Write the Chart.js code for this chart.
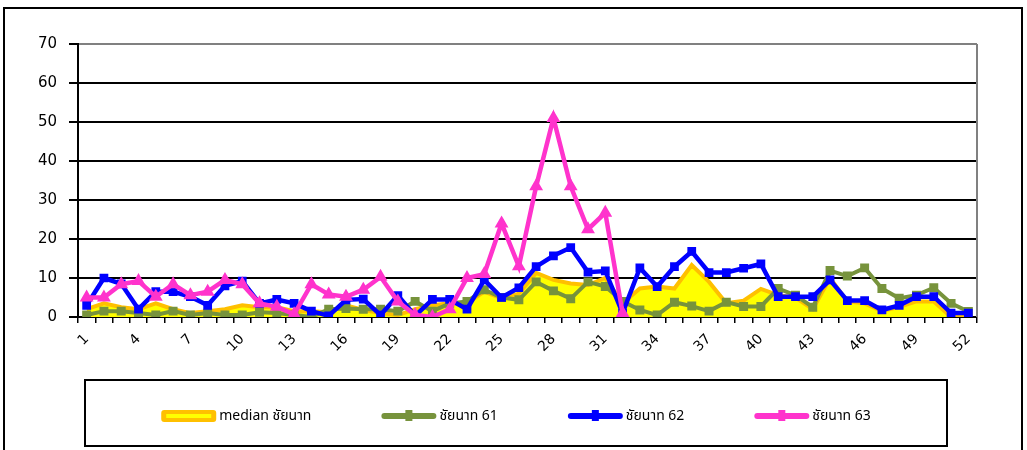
<!DOCTYPE html>
<html>
<head>
<meta charset="utf-8">
<script src="https://cdn.jsdelivr.net/npm/chart.js@4/dist/chart.umd.min.js"></script>
<style>
  html, body { margin: 0; padding: 0; background: #fff; }
  #wrap { width: 1027px; height: 450px; }
</style>
</head>
<body>
<div id="wrap"><canvas id="chart" width="1027" height="450"></canvas></div>
<script>
// weeks 1..52
const weeks = Array.from({ length: 52 }, (_, i) => String(i + 1));

const medianChainat = [2, 3.5, 2.5, 2, 3.5, 2, 1, 1.5, 2, 3, 2.5, 2.5, 1.5, 1.5, 1.2, 3, 1.8, 1, 0.5, 2,
  3, 3.5, 3.5, 6.5, 4.8, 6, 11.3, 9.5, 8.6, 8.2, 10, 3.5, 7.3, 7.8, 7.3, 13.3, 9, 3.5, 4.2, 7.2,
  5.6, 5, 2, 10, 4, 3.5, 1.5, 2.6, 4, 4, 0, 0];

const chainat61 = [0.5, 1.5, 1.5, 1, 0.5, 1.5, 0.5, 1, 0.5, 0.5, 1.2, 1, 0.5, 0, 2, 2.2, 2, 2, 1.5, 4,
  1.5, 3.5, 4, 7, 5, 4.4, 9, 6.7, 4.7, 9, 7.8, 4, 1.8, 0.5, 3.8, 2.8, 1.5, 3.8, 2.7, 2.7,
  7.3, 5.6, 2.5, 11.9, 10.5, 12.6, 7.3, 4.8, 5.6, 7.5, 3.5, 1.4];

const chainat62 = [3, 10, 8.5, 2, 6.5, 6.5, 5.2, 3, 8, 9.2, 3.5, 4.5, 3.5, 1.5, 0.3, 4.4, 4.6, 0.5, 5.5, 0.3,
  4.5, 4.5, 2, 9.5, 5, 7.5, 12.9, 15.7, 17.8, 11.5, 11.8, 1, 12.6, 7.8, 12.9, 16.8, 11.4, 11.4, 12.5, 13.6,
  5.2, 5.2, 5.2, 9.5, 4.2, 4.2, 1.8, 3, 5.2, 5.2, 1, 1];

// only reported up to week 32
const chainat63 = [5, 5, 8.4, 9.2, 5.2, 8.4, 5.6, 6.5, 9.5, 8.4, 3.5, 2.6, 0.7, 8.4, 5.8, 5.2, 7, 10.3, 4, 0.5,
  0, 2, 10, 11, 24, 13, 33.5, 51, 33.5, 22.5, 26.7, 1];

const yTicks = [0, 10, 20, 30, 40, 50, 60, 70];

const FONT = "'DejaVu Sans', 'Noto Sans', sans-serif";
const THAI_FONT = "'Noto Sans Thai', 'Tahoma', 'DejaVu Sans', 'Noto Sans', sans-serif";

// white page + outer frame + right plot border
const frame = {
  id: "frame",
  beforeDraw(chart) {
    const ctx = chart.ctx;
    ctx.save();
    ctx.fillStyle = "#fff";
    ctx.fillRect(0, 0, chart.width, chart.height);
    ctx.strokeStyle = "#000";
    ctx.lineWidth = 2;
    ctx.strokeRect(4, 8, 1018, 470);
    ctx.restore();
  },
  afterDraw(chart) {
    const { ctx, chartArea } = chart;
    ctx.save();
    ctx.strokeStyle = "#808080";
    ctx.lineWidth = 2;
    ctx.beginPath();
    ctx.moveTo(chartArea.right, chartArea.top);
    ctx.lineTo(chartArea.right, chartArea.bottom);
    ctx.stroke();
    ctx.restore();
  }
};

// boxed legend under the axis, Excel style swatches
const boxLegend = {
  id: "boxLegend",
  afterDraw(chart) {
    const ctx = chart.ctx;
    const box = { x: 85, y: 380, w: 862, h: 66 };
    const cy = box.y + 36;
    const swW = 55, gap = 70, txtGap = 3;
    ctx.save();
    ctx.strokeStyle = "#000";
    ctx.lineWidth = 2;
    ctx.strokeRect(box.x, box.y, box.w, box.h);
    ctx.font = "14px " + THAI_FONT;
    ctx.textBaseline = "middle";

    const items = chart.data.datasets.map(ds => ({ ds, tw: ctx.measureText(ds.label).width }));
    const total = items.reduce((s, it) => s + swW + txtGap + it.tw, 0) + gap * (items.length - 1);
    let x = box.x + (box.w - total) / 2;

    items.forEach(({ ds, tw }) => {
      if (ds.fill) {
        ctx.fillStyle = ds.borderColor;
        ctx.beginPath();
        ctx.roundRect(x, cy - 6, swW, 12, 3);
        ctx.fill();
        ctx.strokeStyle = ds.backgroundColor;
        ctx.lineWidth = 4;
        ctx.beginPath();
        ctx.moveTo(x + 5, cy);
        ctx.lineTo(x + swW - 5, cy);
        ctx.stroke();
      } else {
        ctx.strokeStyle = ds.borderColor;
        ctx.lineWidth = 6;
        ctx.lineCap = "round";
        ctx.beginPath();
        ctx.moveTo(x + 3, cy);
        ctx.lineTo(x + swW - 3, cy);
        ctx.stroke();
        ctx.fillStyle = ds.borderColor;
        ctx.fillRect(x + swW / 2 - 3.5, cy - 6, 7, 11);
      }
      ctx.fillStyle = "#000";
      ctx.fillText(ds.label, x + swW + txtGap, cy + 1);
      x += swW + txtGap + tw + gap;
    });
    ctx.restore();
  }
};

new Chart(document.getElementById("chart"), {
  type: "line",
  data: {
    labels: weeks,
    datasets: [
      {
        label: "median ชัยนาท",
        data: medianChainat,
        borderColor: "#FFC000",
        backgroundColor: "#FFFF00",
        borderWidth: 4,
        fill: "origin",
        pointRadius: 0,
        tension: 0,
        order: 4
      },
      {
        label: "ชัยนาท 61",
        data: chainat61,
        borderColor: "#77933C",
        backgroundColor: "#77933C",
        borderWidth: 4,
        fill: false,
        pointStyle: "rect",
        pointRadius: 3.5,
        tension: 0,
        order: 3
      },
      {
        label: "ชัยนาท 62",
        data: chainat62,
        borderColor: "#0000FF",
        backgroundColor: "#0000FF",
        borderWidth: 4.5,
        fill: false,
        pointStyle: "rect",
        pointRadius: 3,
        tension: 0,
        order: 2
      },
      {
        label: "ชัยนาท 63",
        data: chainat63,
        borderColor: "#FF33CC",
        backgroundColor: "#FF33CC",
        borderWidth: 4.5,
        fill: false,
        pointStyle: "triangle",
        pointRadius: 3.5,
        tension: 0,
        order: 1
      }
    ]
  },
  options: {
    responsive: false,
    animation: false,
    layout: { padding: { left: 0, right: 50, top: 44, bottom: 0 } },
    plugins: {
      legend: { display: false },
      tooltip: { enabled: false }
    },
    scales: {
      x: {
        offset: true,
        afterFit(scale) { scale.height = 133; },
        grid: {
          display: true,
          drawOnChartArea: false,
          offset: true,
          tickLength: 6,
          color: "#000",
          lineWidth: 1.5
        },
        border: { color: "#000", width: 2 },
        ticks: {
          autoSkip: false,
          minRotation: 45,
          maxRotation: 45,
          padding: 8,
          color: "#000",
          font: { family: FONT, size: 14 },
          callback(val, i) { return i % 3 === 0 ? weeks[i] : ""; }
        }
      },
      y: {
        min: 0,
        max: 70,
        afterFit(scale) { scale.width = 78; },
        afterBuildTicks(scale) { scale.ticks = yTicks.map(v => ({ value: v })); },
        grid: {
          color: c => (c.tick && c.tick.value === 70 ? "#808080" : "#000"),
          tickColor: "#000",
          lineWidth: 2,
          tickLength: 9
        },
        border: { color: "#000", width: 2 },
        ticks: {
          padding: 12,
          color: "#000",
          font: { family: FONT, size: 15 }
        }
      }
    }
  },
  plugins: [frame, boxLegend]
});
</script>
</body>
</html>
